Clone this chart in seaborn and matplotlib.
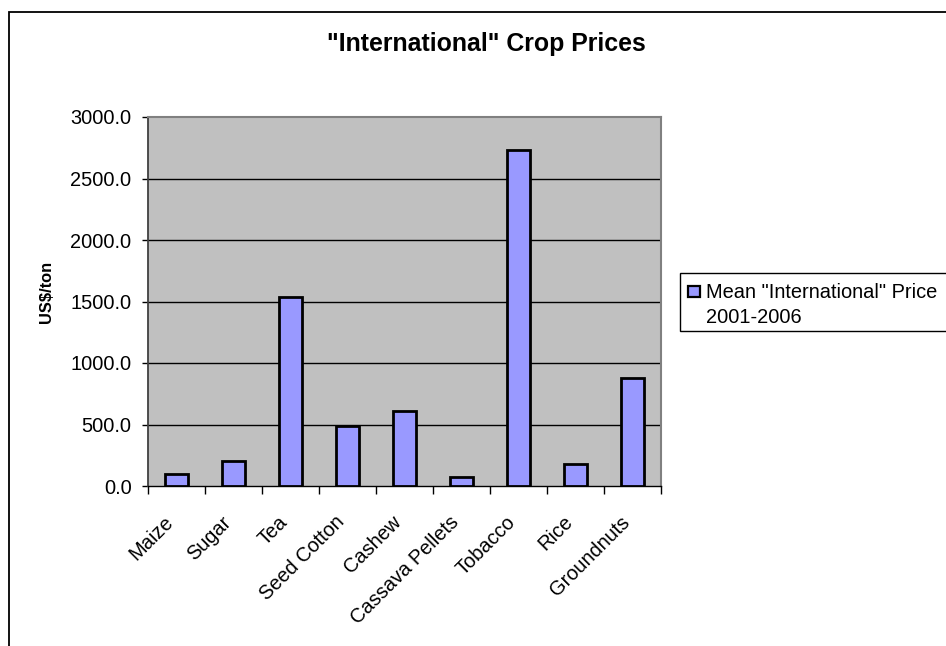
import matplotlib
matplotlib.use("Agg")
import matplotlib.pyplot as plt
from matplotlib.patches import Rectangle
from matplotlib.ticker import FixedLocator, FormatStrFormatter, NullFormatter
import seaborn as sns
import pandas as pd

crops = ["Maize", "Sugar", "Tea", "Seed Cotton", "Cashew",
         "Cassava Pellets", "Tobacco", "Rice", "Groundnuts"]
mean_price = [100, 206, 1540, 488, 610, 76, 2732, 179, 878]
series_label = ['Mean "International" Price', "2001-2006"]
y_ticks = [0, 500, 1000, 1500, 2000, 2500, 3000]
title = '"International" Crop Prices'
y_title = "US$/ton"

df = pd.DataFrame({"crop": crops, "price": mean_price})

sns.set_theme(style="white")
plt.rcParams["font.family"] = ["Liberation Sans", "DejaVu Sans"]
plt.rcParams["text.color"] = "black"
plt.rcParams["xtick.color"] = "black"
plt.rcParams["ytick.color"] = "black"

BAR_COLOR = "#9999FF"
W, H = 946, 646
fig = plt.figure(figsize=(W / 100, H / 100), dpi=100)
fig.patch.set_facecolor("white")


def fx(px):
    return px / W


def fy(py):
    return 1 - py / H


# outer chart frame (runs off the right and bottom edges)
fig.patches.append(Rectangle((fx(9), -0.1), 1.2, fy(12) + 0.1,
                             transform=fig.transFigure, fill=False,
                             edgecolor="black", linewidth=1.3, zorder=0))

left, right, top, bottom = 148, 661, 117, 486
ax = fig.add_axes([fx(left), fy(bottom), (right - left) / W, (bottom - top) / H])
ax.set_facecolor("#C0C0C0")

for yv in y_ticks[1:-1]:
    ax.axhline(yv, color="black", linewidth=1.0, zorder=1)

sns.barplot(data=df, x="crop", y="price", color=BAR_COLOR, saturation=1,
            edgecolor="black", linewidth=2.0, width=0.42, ax=ax, zorder=3)

ax.set_xlim(-0.5, len(crops) - 0.5)
ax.set_ylim(0, 3000)

# ticks on category boundaries; slanted labels sit just left of each centre
label_offset = 0.22
ax.xaxis.set_major_locator(FixedLocator([i - 0.5 for i in range(len(crops) + 1)]))
ax.xaxis.set_major_formatter(NullFormatter())
ax.xaxis.set_minor_locator(FixedLocator([i - label_offset for i in range(len(crops))]))
ax.set_xticklabels(crops, minor=True, rotation=45, ha="right", va="top",
                   rotation_mode="anchor", fontsize=14.4)
ax.tick_params(axis="x", which="major", direction="out", length=6,
               width=1, color="black", bottom=True)
ax.tick_params(axis="x", which="minor", length=0, pad=19)

ax.set_yticks(y_ticks)
ax.yaxis.set_major_formatter(FormatStrFormatter("%.1f"))
ax.tick_params(axis="y", direction="out", length=4.3, width=1,
               color="black", left=True, labelsize=14.4, pad=7.5)

for side in ("top", "right"):
    ax.spines[side].set_color("#808080")
    ax.spines[side].set_linewidth(1.5)
ax.spines["left"].set_color("#404040")
ax.spines["left"].set_linewidth(1.3)
ax.spines["bottom"].set_color("black")
ax.spines["bottom"].set_linewidth(1.0)

ax.set_xlabel("")
ax.set_ylabel("")

fig.text(fx(46), fy(292), y_title, rotation=90, ha="center", va="center",
         fontsize=11.8, fontweight="bold")

fig.text(fx(486), fy(51), title, ha="center", va="baseline",
         fontsize=17.9, fontweight="bold")

# legend box with the swatch aligned to the first text line
fig.patches.append(Rectangle((fx(680), fy(331)), 0.5, (331 - 273) / H,
                             transform=fig.transFigure, facecolor="white",
                             edgecolor="black", linewidth=1.0, zorder=2))
fig.patches.append(Rectangle((fx(688), fy(297)), 12 / W, 11 / H,
                             transform=fig.transFigure, facecolor=BAR_COLOR,
                             edgecolor="black", linewidth=1.6, zorder=3))
fig.text(fx(706), fy(298), series_label[0], ha="left", va="baseline",
         fontsize=14.4, zorder=4)
fig.text(fx(706), fy(323), series_label[1], ha="left", va="baseline",
         fontsize=14.4, zorder=4)

fig.savefig("out.png", dpi=100, facecolor="white")
